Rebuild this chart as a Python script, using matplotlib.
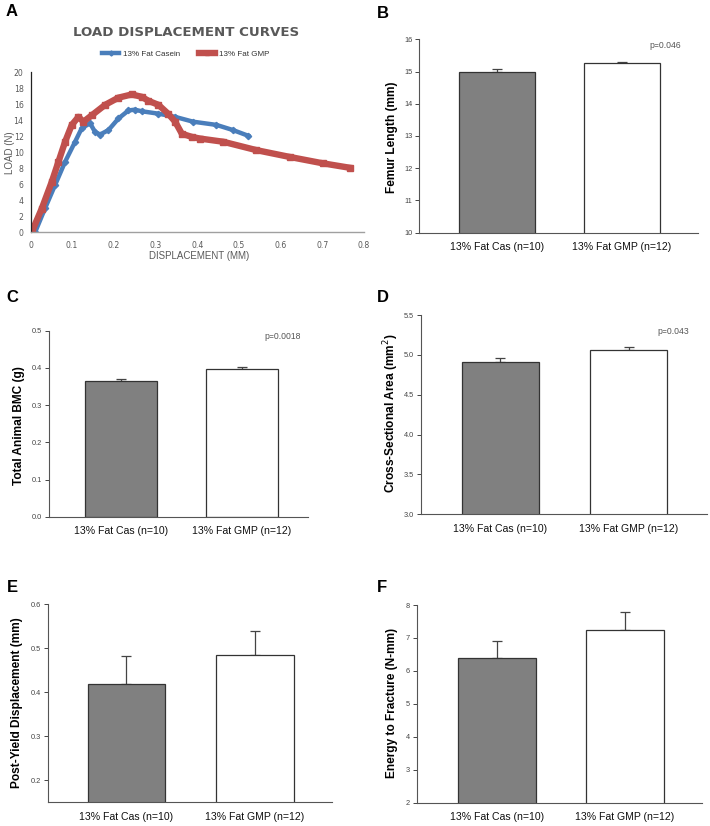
#!/usr/bin/env python3
"""Femur mechanics figure: load-displacement curves and bar charts (A-F)."""
import matplotlib

matplotlib.use("Agg")
import matplotlib.pyplot as plt

W, H = 710, 826

# panel A
CASEIN_X = [0.011, 0.035, 0.059, 0.083, 0.107, 0.123, 0.143, 0.155, 0.167,
            0.187, 0.211, 0.235, 0.250, 0.267, 0.307, 0.347, 0.390, 0.446,
            0.486, 0.522]
CASEIN_Y = [0.0, 3.0, 5.9, 8.8, 11.3, 13.0, 13.6, 12.5, 12.2, 12.75, 14.2,
            15.2, 15.3, 15.1, 14.8, 14.4, 13.8, 13.4, 12.75, 12.05]
GMP_X = [0.0, 0.003, 0.027, 0.051, 0.067, 0.083, 0.099, 0.115, 0.127, 0.147,
         0.179, 0.211, 0.243, 0.267, 0.283, 0.307, 0.330, 0.347, 0.363, 0.387,
         0.406, 0.462, 0.542, 0.622, 0.702, 0.766]
GMP_Y = [0.0, 0.04, 2.96, 6.3, 8.8, 11.3, 13.4, 14.4, 13.8, 14.6, 15.9, 16.8,
         17.2, 16.9, 16.4, 15.9, 14.8, 13.8, 12.3, 11.9, 11.7, 11.3, 10.25,
         9.4, 8.6, 8.05]
SERIES = ["13% Fat Casein", "13% Fat GMP"]

# bar panels
GROUPS = ["13% Fat Cas (n=10)", "13% Fat GMP (n=12)"]
FEMUR_LEN = [15.0, 15.25]
FEMUR_LEN_ERR = [0.09, 0.06]
BMC = [0.365, 0.398]
BMC_ERR = [0.006, 0.005]
CSA = [4.91, 5.058]
CSA_ERR = [0.055, 0.037]
PY_DISP = [0.42, 0.485]
PY_DISP_ERR = [0.063, 0.055]
ENERGY = [6.4, 7.23]
ENERGY_ERR = [0.5, 0.55]

BLUE = "#4a7ebb"
RED = "#c0504d"
GREY_TXT = "#595959"

plt.rcParams["font.family"] = ["Liberation Sans", "DejaVu Sans"]


def rect(x0, x1, y_top, y_bot):
    """pixel box -> figure fraction [left, bottom, width, height]"""
    return [x0 / W, 1 - y_bot / H, (x1 - x0) / W, (y_bot - y_top) / H]


def ftext(fig, x, y, s, **kw):
    fig.text(x / W, 1 - y / H, s, **kw)


def bar_panel(fig, box, vals, errs, ylim, yticks, fmt, xlim, width, ylabel,
              label_xy, letter, letter_xy, ptext=None, p_xy=None):
    ax = fig.add_axes(rect(*box))
    ax.bar([0, 1], vals, width=width, color=["#808080", "white"],
           edgecolor="#333333", linewidth=0.9, zorder=2)
    ax.errorbar([0, 1], vals, yerr=[[0, 0], errs], fmt="none",
                ecolor="#444444", elinewidth=0.9, capsize=3.5, capthick=0.9,
                zorder=1)
    ax.set_ylim(*ylim)
    ax.set_xlim(*xlim)
    ax.set_yticks(yticks)
    ax.set_yticklabels([fmt.format(t) for t in yticks])
    ax.set_xticks([0, 1])
    ax.set_xticklabels(GROUPS, fontsize=7.6, color="#111111")
    ax.tick_params(axis="x", length=0, pad=7)
    ax.tick_params(axis="y", length=3, width=0.7, labelsize=5.3,
                   colors="#444444", pad=2)
    for s in ["top", "right"]:
        ax.spines[s].set_visible(False)
    ax.spines["left"].set_color("#555555")
    ax.spines["bottom"].set_color("#555555")
    ax.spines["left"].set_linewidth(0.8)
    ax.spines["bottom"].set_linewidth(0.8)
    ftext(fig, label_xy[0], label_xy[1], ylabel, rotation=90, ha="center",
          va="center", fontsize=8.6, fontweight="bold")
    ftext(fig, letter_xy[0], letter_xy[1], letter, ha="center", va="center",
          fontsize=12, fontweight="bold")
    if ptext:
        ftext(fig, p_xy[0], p_xy[1], ptext, ha="center", va="center",
              fontsize=6.2, color="#555555")
    return ax


def main():
    fig = plt.figure(figsize=(W / 100, H / 100), dpi=100)

    # --- A: load displacement curves
    ax = fig.add_axes(rect(30.5, 364, 72, 232.3))
    ax.plot(CASEIN_X, CASEIN_Y, color=BLUE, lw=3.2, marker="D", ms=3.2,
            label=SERIES[0])
    ax.plot(GMP_X, GMP_Y, color=RED, lw=4.6, marker="s", ms=4.2,
            label=SERIES[1])
    ax.set_xlim(0, 0.8)
    ax.set_ylim(0, 20)
    ax.set_xticks([i / 10 for i in range(9)])
    ax.set_xticklabels(["0"] + [f"{i / 10:.1f}" for i in range(1, 9)],
                       family="DejaVu Sans")
    ax.set_yticks(range(0, 21, 2))
    ax.set_yticklabels([str(v) for v in range(0, 21, 2)],
                       family="DejaVu Sans")
    ax.tick_params(length=0, labelsize=5.6, colors=GREY_TXT)
    ax.tick_params(axis="x", pad=6)
    ax.tick_params(axis="y", pad=5)
    for s in ["top", "right"]:
        ax.spines[s].set_visible(False)
    ax.spines["left"].set_color("#222222")
    ax.spines["left"].set_linewidth(0.9)
    ax.spines["bottom"].set_color("#a0a0a0")
    ax.spines["bottom"].set_linewidth(1.0)
    ax.legend(loc="center", bbox_to_anchor=(186 / W, 1 - 54 / H),
              bbox_transform=fig.transFigure, ncol=2, frameon=False,
              fontsize=5.8, handlelength=2.0, columnspacing=2.4,
              handletextpad=0.5, labelcolor="#333333", markerscale=0.8)
    ftext(fig, 186, 32, "LOAD DISPLACEMENT CURVES", ha="center", va="center",
          fontsize=9.6, fontweight="bold", color=GREY_TXT,
          family="DejaVu Sans")
    ftext(fig, 10, 153, "LOAD (N)", rotation=90, ha="center", va="center",
          fontsize=7, color=GREY_TXT)
    ftext(fig, 199, 256, "DISPLACEMENT (MM)", ha="center", va="center",
          fontsize=7, color=GREY_TXT)
    ftext(fig, 12, 12, "A", ha="center", va="center", fontsize=12,
          fontweight="bold")

    # --- B-F: bar charts
    bar_panel(fig, (419.3, 698, 39.3, 232.7), FEMUR_LEN, FEMUR_LEN_ERR,
              (10, 16), list(range(10, 17)), "{:.0f}", (-0.626, 1.613), 0.608,
              "Femur Length (mm)", (392, 137), "B", (383, 13),
              "p=0.046", (665, 46))
    bar_panel(fig, (49, 308, 330.7, 516.7), BMC, BMC_ERR,
              (0, 0.5), [0, 0.1, 0.2, 0.3, 0.4, 0.5], "{:.1f}",
              (-0.604, 1.554), 0.6, "Total Animal BMC (g)", (19, 426),
              "C", (12, 298), "p=0.0018", (283, 337))
    bar_panel(fig, (421, 706.7, 315, 514.3), CSA, CSA_ERR,
              (3, 5.5), [3.0, 3.5, 4.0, 4.5, 5.0, 5.5], "{:.1f}",
              (-0.618, 1.606), 0.6, "Cross-Sectional Area (mm$^2$)",
              (391.7, 413), "D", (383, 298), "p=0.043", (673, 332))
    bar_panel(fig, (47.7, 331.7, 604.3, 802.3), PY_DISP, PY_DISP_ERR,
              (0.15, 0.6), [0.2, 0.3, 0.4, 0.5, 0.6], "{:.1f}",
              (-0.609, 1.595), 0.6, "Post-Yield Displacement (mm)",
              (17.3, 703), "E", (12, 587))
    bar_panel(fig, (416.7, 702.3, 605, 802.7), ENERGY, ENERGY_ERR,
              (2, 8), list(range(2, 9)), "{:.0f}", (-0.629, 1.605), 0.605,
              "Energy to Fracture (N-mm)", (392.3, 703), "F", (382, 587))

    fig.savefig("out.png", dpi=100)


if __name__ == "__main__":
    main()
